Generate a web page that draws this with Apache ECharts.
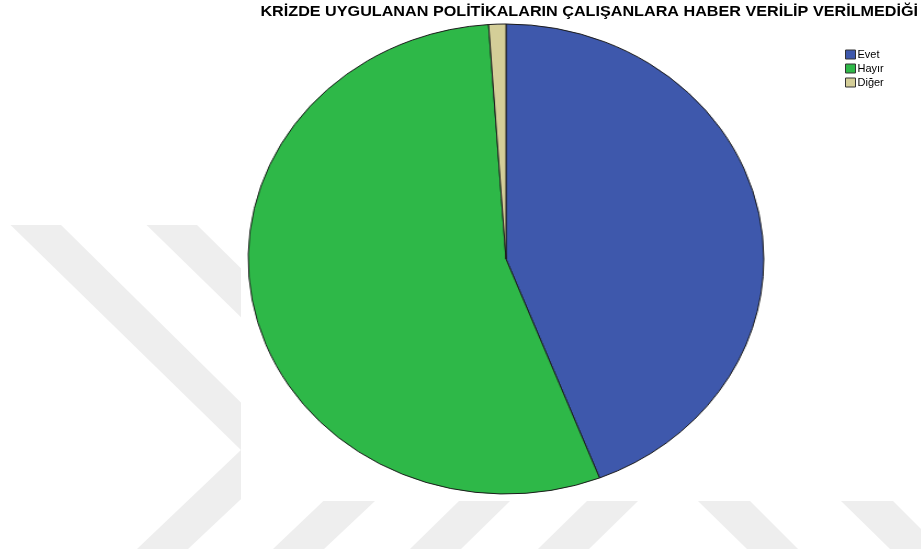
<!DOCTYPE html>
<html>
<head>
<meta charset="utf-8">
<script src="https://cdn.jsdelivr.net/npm/echarts@6/dist/echarts.min.js"></script>
<style>
html,body{margin:0;padding:0;background:#fff;}
#wrap{position:relative;width:921px;height:549px;overflow:hidden;}
#main{position:absolute;left:0;top:0;width:921px;height:549px;}
#pie{position:absolute;left:265.6px;top:19px;width:480px;height:480px;transform:scaleX(1.097);transform-origin:50% 50%;}
</style>
</head>
<body>
<div id="wrap"><div id="main"></div><div id="pie"></div></div>
<script>
// ---- data ----
var titleText = 'KRİZDE UYGULANAN POLİTİKALARIN ÇALIŞANLARA HABER VERİLİP VERİLMEDİĞİ';
var categories = ['Evet', 'Hayır', 'Diğer'];
var counts = [41, 51, 1];
var colors = ['#3E58AC', '#2EB848', '#D4CE98'];

function seriesData() {
  return categories.map(function (c, i) {
    return { name: c, value: counts[i], itemStyle: { color: colors[i] } };
  });
}

// ---- watermark decoration ----
var wm = '#eeeeee';
function chevron(dx) {
  return {
    type: 'polygon', z: 0, silent: true,
    shape: { points: [[10.6 + dx, 225], [61 + dx, 225], [291 + dx, 452], [188 + dx, 549], [137 + dx, 549], [241 + dx, 450]] },
    style: { fill: wm }
  };
}
function band(x1a, x1b, x2a, x2b) {
  return {
    type: 'polygon', z: 0, silent: true,
    shape: { points: [[x1a, 501], [x1b, 501], [x2b, 549], [x2a, 549]] },
    style: { fill: wm }
  };
}
var graphics = [
  chevron(0),
  chevron(136),
  band(459, 510, 410, 461),
  band(587, 638, 538, 589),
  band(698, 750, 747, 798),
  band(841, 893, 890, 941),
  { type: 'rect', z: 1, silent: true, shape: { x: 241, y: 0, width: 700, height: 501 }, style: { fill: '#ffffff' } },
  {
    type: 'text', z: 10, silent: true,
    x: 918, y: 12, scaleX: 1.155,
    style: {
      text: titleText, align: 'right', verticalAlign: 'middle',
      fontFamily: 'Liberation Sans, Arial, sans-serif', fontWeight: 'bold', fontSize: 14, fill: '#000'
    }
  }
];

var main = echarts.init(document.getElementById('main'), null, { renderer: 'canvas' });
main.setOption({
  animation: false,
  backgroundColor: '#ffffff',
  graphic: graphics,
  legend: {
    orient: 'vertical',
    left: 840, top: 44,
    itemWidth: 10, itemHeight: 9, itemGap: 3,
    icon: 'rect',
    itemStyle: { borderColor: '#333', borderWidth: 1 },
    textStyle: { fontFamily: 'Liberation Sans, Arial, sans-serif', fontSize: 11, color: '#000', padding: [0, 0, 0, -3] },
    data: categories,
    selectedMode: false
  },
  series: [{
    type: 'pie', silent: true,
    center: [-500, -500], radius: 1,
    label: { show: false },
    data: seriesData()
  }]
});

var pie = echarts.init(document.getElementById('pie'), null, { renderer: 'canvas' });
pie.setOption({
  animation: false,
  backgroundColor: 'transparent',
  series: [{
    type: 'pie',
    center: ['50%', '50%'],
    radius: 235,
    startAngle: 90,
    clockwise: true,
    label: { show: false },
    labelLine: { show: false },
    emphasis: { disabled: true },
    itemStyle: { borderColor: '#1a1a1a', borderWidth: 1 },
    data: seriesData()
  }]
});
</script>
</body>
</html>
